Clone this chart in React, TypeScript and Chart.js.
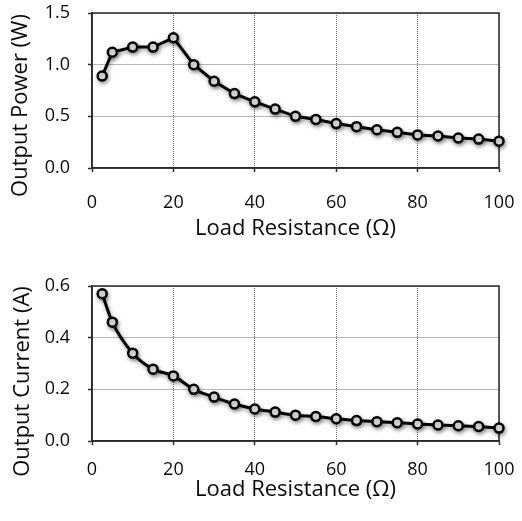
import React, { useEffect, useRef } from "react";
import { Chart, registerables } from "chart.js";

Chart.register(...registerables);

// ---- data ----
const resistance = [2.5, 5, 10, 15, 20, 25, 30, 35, 40, 45, 50, 55, 60, 65, 70, 75, 80, 85, 90, 95, 100];
const powerW = [0.89, 1.12, 1.17, 1.17, 1.26, 1.0, 0.84, 0.72, 0.64, 0.57, 0.5, 0.47, 0.43, 0.4, 0.37, 0.345, 0.32, 0.31, 0.29, 0.28, 0.26];
const currentA = [0.57, 0.46, 0.34, 0.278, 0.252, 0.2, 0.17, 0.143, 0.124, 0.112, 0.1, 0.095, 0.086, 0.079, 0.075, 0.071, 0.066, 0.062, 0.059, 0.056, 0.05];
const xTicks = [0, 20, 40, 60, 80, 100];
const powerTicks = [0, 0.5, 1.0, 1.5];
const currentTicks = [0, 0.2, 0.4, 0.6];
const xTitle = "Load Resistance (Ω)";
const powerTitle = "Output Power (W)";
const currentTitle = "Output Current (A)";

const FONT = "'Open Sans', 'DejaVu Sans', sans-serif";
const DARK = "#2a2a2a";
const GRID = "#6e6e6e";
const TEXT = "#0a0a0a";

const shadowPlugin = {
  id: "lineShadow",
  beforeDatasetsDraw(chart: any) {
    const c = chart.ctx;
    c.save();
    c.shadowColor = "rgba(0,0,0,0.4)";
    c.shadowBlur = 4;
    c.shadowOffsetX = 1;
    c.shadowOffsetY = 2;
  },
  afterDatasetsDraw(chart: any) {
    chart.ctx.restore();
  },
};

const framePlugin = {
  id: "frame",
  beforeDatasetsDraw(chart: any) {
    const c = chart.ctx;
    const a = chart.chartArea;
    c.save();
    c.strokeStyle = DARK;
    c.lineWidth = 1.5;
    c.setLineDash([]);
    c.strokeRect(a.left, a.top, a.right - a.left, a.bottom - a.top);
    c.restore();
  },
};

function makeYTitlePlugin(text: string, x: number, dy: number) {
  return {
    id: "yTitle",
    afterDraw(chart: any) {
      const c = chart.ctx;
      const a = chart.chartArea;
      c.save();
      c.translate(x, (a.top + a.bottom) / 2 + dy);
      c.rotate(-Math.PI / 2);
      c.font = `22px ${FONT}`;
      c.fillStyle = TEXT;
      c.textAlign = "center";
      c.textBaseline = "middle";
      c.fillText(text, 0, 0);
      c.restore();
    },
  };
}

function zeroPadding(s: any) {
  s.paddingTop = 0;
  s.paddingBottom = 0;
  s.paddingLeft = 0;
  s.paddingRight = 0;
}

type Cfg = {
  values: number[];
  yTicks: number[];
  yTitle: string;
  height: number;
  padTop: number;
  xAxisHeight: number;
  xTickPad: number;
  smooth: boolean;
  titleX: number;
  titleDy: number;
};

function buildChart(canvas: HTMLCanvasElement, cfg: Cfg) {
  const yMin = cfg.yTicks[0];
  const yMax = cfg.yTicks[cfg.yTicks.length - 1];
  const xMin = xTicks[0];
  const xMax = xTicks[xTicks.length - 1];
  const gridOpts = {
    color: GRID,
    lineWidth: 1,
    tickColor: DARK,
    tickLength: 4,
    tickWidth: 1.5,
  };
  const borderOpts: any = {
    color: DARK,
    width: 1.5,
    dash: [1, 1],
  };
  return new Chart(canvas, {
    type: "line",
    data: {
      datasets: [
        {
          data: resistance.map((r, i) => ({ x: r, y: cfg.values[i] })),
          borderColor: "#000",
          borderWidth: 3,
          pointRadius: 4.5,
          pointBorderWidth: 2.5,
          pointBackgroundColor: "#f4f4f4",
          pointBorderColor: "#000",
          tension: cfg.smooth ? 0.4 : 0,
          cubicInterpolationMode: cfg.smooth ? "monotone" : "default",
          clip: false,
        } as any,
      ],
    },
    options: {
      animation: false,
      responsive: false,
      events: [],
      layout: { autoPadding: false, padding: { left: 0, right: 23, top: cfg.padTop, bottom: 0 } },
      plugins: { legend: { display: false }, tooltip: { enabled: false } },
      scales: {
        x: {
          type: "linear",
          min: xMin,
          max: xMax,
          afterBuildTicks: (s: any) => {
            s.ticks = xTicks.map((v) => ({ value: v }));
          },
          afterFit: (s: any) => {
            s.height = cfg.xAxisHeight;
            zeroPadding(s);
          },
          ticks: {
            font: { family: FONT, size: 18 },
            color: TEXT,
            padding: cfg.xTickPad,
            maxRotation: 0,
            callback: (v: any) => String(v),
          },
          grid: gridOpts,
          border: borderOpts,
          title: {
            display: true,
            text: xTitle,
            font: { family: FONT, size: 22 },
            color: TEXT,
            padding: { top: 0, bottom: 18 },
          },
        },
        y: {
          type: "linear",
          min: yMin,
          max: yMax,
          afterBuildTicks: (s: any) => {
            s.ticks = cfg.yTicks.map((v) => ({ value: v }));
          },
          afterFit: (s: any) => {
            s.width = 92;
            zeroPadding(s);
          },
          ticks: {
            font: { family: FONT, size: 18 },
            color: TEXT,
            padding: 18,
            callback: (v: any) => Number(v).toFixed(1),
          },
          grid: gridOpts,
          border: borderOpts,
        },
      },
    },
    plugins: [framePlugin, shadowPlugin, makeYTitlePlugin(cfg.yTitle, cfg.titleX, cfg.titleDy)],
  } as any);
}

function Panel({ cfg, top }: { cfg: Cfg; top: number }) {
  const ref = useRef<HTMLCanvasElement | null>(null);
  useEffect(() => {
    if (!ref.current) return;
    const chart = buildChart(ref.current, cfg);
    return () => chart.destroy();
  }, []);
  return (
    <canvas
      ref={ref}
      width={522}
      height={cfg.height}
      style={{ position: "absolute", left: 0, top, width: 522, height: cfg.height, display: "block" }}
    />
  );
}

const topCfg: Cfg = {
  values: powerW,
  yTicks: powerTicks,
  yTitle: powerTitle,
  height: 260,
  padTop: 13,
  xAxisHeight: 92,
  xTickPad: 20,
  smooth: false,
  titleX: 21,
  titleDy: 15,
};

const bottomCfg: Cfg = {
  values: currentA,
  yTicks: currentTicks,
  yTitle: currentTitle,
  height: 261,
  padTop: 26,
  xAxisHeight: 80,
  xTickPad: 14,
  smooth: true,
  titleX: 23,
  titleDy: 18,
};

export default function App() {
  return (
    <div style={{ position: "absolute", left: 0, top: 0, width: 522, height: 521, background: "#fff" }}>
      <Panel cfg={topCfg} top={0} />
      <Panel cfg={bottomCfg} top={260} />
    </div>
  );
}
